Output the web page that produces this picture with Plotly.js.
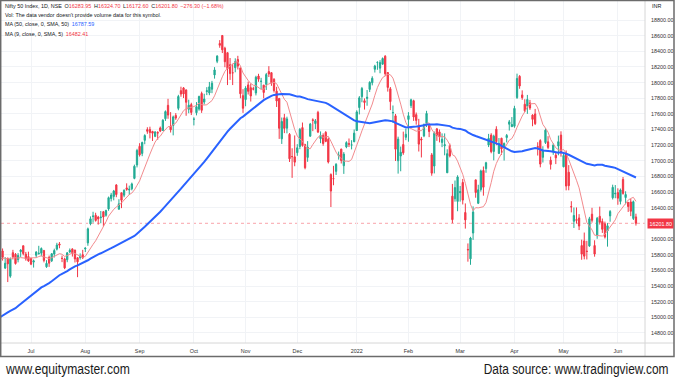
<!DOCTYPE html>
<html>
<head>
<meta charset="utf-8">
<script src="https://cdn.plot.ly/plotly-3.0.1.min.js"></script>
<style>html,body{margin:0;padding:0;background:#fff;}#chart{width:675px;height:378px;}</style>
</head>
<body>
<div id="chart"></div>
<script>
// Closes before the visible window (used only for the moving averages)
const priorCloses = [14690.70,14867.35,14637.80,14683.50,14819.05,14873.80,14834.85,14310.80,14504.80,14581.45,14617.85,14359.45,14296.40,14406.15,14341.35,14485.00,14653.05,14864.55,14894.90,14631.10,
14634.15,14496.50,14617.85,14724.80,14823.15,14942.35,14850.75,14696.50,14677.80,14923.15,15108.10,15030.15,14906.05,15175.30,15197.70,15208.45,15301.45,15337.85,15435.65,15582.80,
15574.85,15576.20,15690.35,15670.25,15751.65,15740.10,15635.35,15737.75,15799.35];

const dates = [
'2021-06-14','2021-06-15','2021-06-16','2021-06-17','2021-06-18','2021-06-21','2021-06-22','2021-06-23','2021-06-24','2021-06-25','2021-06-28','2021-06-29','2021-06-30',
'2021-07-01','2021-07-02','2021-07-05','2021-07-06','2021-07-07','2021-07-08','2021-07-09','2021-07-12','2021-07-13','2021-07-14','2021-07-15','2021-07-16','2021-07-19','2021-07-20','2021-07-22','2021-07-23','2021-07-26','2021-07-27','2021-07-28','2021-07-29','2021-07-30',
'2021-08-02','2021-08-03','2021-08-04','2021-08-05','2021-08-06','2021-08-09','2021-08-10','2021-08-11','2021-08-12','2021-08-13','2021-08-16','2021-08-17','2021-08-18','2021-08-20','2021-08-23','2021-08-24','2021-08-25','2021-08-26','2021-08-27','2021-08-30','2021-08-31',
'2021-09-01','2021-09-02','2021-09-03','2021-09-06','2021-09-07','2021-09-08','2021-09-09','2021-09-13','2021-09-14','2021-09-15','2021-09-16','2021-09-17','2021-09-20','2021-09-21','2021-09-22','2021-09-23','2021-09-24','2021-09-27','2021-09-28','2021-09-29','2021-09-30',
'2021-10-01','2021-10-04','2021-10-05','2021-10-06','2021-10-07','2021-10-08','2021-10-11','2021-10-12','2021-10-13','2021-10-14','2021-10-18','2021-10-19','2021-10-20','2021-10-21','2021-10-22','2021-10-25','2021-10-26','2021-10-27','2021-10-28','2021-10-29',
'2021-11-01','2021-11-02','2021-11-03','2021-11-04','2021-11-08','2021-11-09','2021-11-10','2021-11-11','2021-11-12','2021-11-15','2021-11-16','2021-11-17','2021-11-18','2021-11-22','2021-11-23','2021-11-24','2021-11-25','2021-11-26','2021-11-29','2021-11-30',
'2021-12-01','2021-12-02','2021-12-03','2021-12-06','2021-12-07','2021-12-08','2021-12-09','2021-12-10','2021-12-13','2021-12-14','2021-12-15','2021-12-16','2021-12-17','2021-12-20','2021-12-21','2021-12-22','2021-12-23','2021-12-24','2021-12-27','2021-12-28','2021-12-29','2021-12-30','2021-12-31',
'2022-01-03','2022-01-04','2022-01-05','2022-01-06','2022-01-07','2022-01-10','2022-01-11','2022-01-12','2022-01-13','2022-01-14','2022-01-17','2022-01-18','2022-01-19','2022-01-20','2022-01-21','2022-01-24','2022-01-25','2022-01-27','2022-01-28','2022-01-31',
'2022-02-01','2022-02-02','2022-02-03','2022-02-04','2022-02-07','2022-02-08','2022-02-09','2022-02-10','2022-02-11','2022-02-14','2022-02-15','2022-02-16','2022-02-17','2022-02-18','2022-02-21','2022-02-22','2022-02-23','2022-02-24','2022-02-25','2022-02-28',
'2022-03-02','2022-03-03','2022-03-04','2022-03-07','2022-03-08','2022-03-09','2022-03-10','2022-03-11','2022-03-14','2022-03-15','2022-03-16','2022-03-17','2022-03-21','2022-03-22','2022-03-23','2022-03-24','2022-03-25','2022-03-28','2022-03-29','2022-03-30','2022-03-31',
'2022-04-01','2022-04-04','2022-04-05','2022-04-06','2022-04-07','2022-04-08','2022-04-11','2022-04-12','2022-04-13','2022-04-18','2022-04-19','2022-04-20','2022-04-21','2022-04-22','2022-04-25','2022-04-26','2022-04-27','2022-04-28','2022-04-29',
'2022-05-02','2022-05-04','2022-05-05','2022-05-06','2022-05-09','2022-05-10','2022-05-11','2022-05-12','2022-05-13','2022-05-16','2022-05-17','2022-05-18','2022-05-19','2022-05-20','2022-05-23','2022-05-24','2022-05-25','2022-05-26','2022-05-27','2022-05-30','2022-05-31',
'2022-06-01','2022-06-02','2022-06-03','2022-06-06','2022-06-07','2022-06-08','2022-06-09','2022-06-10'];

const opens = [
15791.4,15866.95,15847.5,15629.65,15756.5,15525.85,15826.6,15805.45,15737.75,15839.35,15915.35,15807.5,15776.9,
15755.05,15705.85,15793.4,15813.75,15819.6,15855.4,15645.7,15766.8,15722.2,15808.7,15871.4,15938.05,15754.5,15746.2,15736.35,15836.35,15874.25,15860.35,15761.5,15762.95,15800.6,
15874.9,15951.55,16195.25,16288.9,16304.4,16281.15,16274.75,16349.45,16303.65,16385.7,16518.4,16545.25,16691.95,16382.5,16592.25,16561.4,16654.3,16627.95,16642.55,16775.85,16947.5,
17185.6,17095.4,17262.45,17399.35,17401.55,17375.75,17312.85,17363.55,17420.35,17387.65,17539.2,17709.65,17443.85,17450.5,17580.9,17670.85,17897.45,17932.2,17906.45,17657.95,17718.9,
17531.9,17615.55,17661.35,17861.5,17750.9,17886.85,17867.55,17915.8,18097.85,18272.85,18500.1,18602.35,18439.9,18382.7,18229.5,18125.65,18190.7,18295.85,18187.65,17833.35,
17783.15,17970.9,17935.05,17921.65,17867.55,18084.35,18015.65,17967.45,17977.6,18140.95,18127.05,18041.95,17890.55,17796.25,17281.75,17550.05,17417.3,17338.75,17055.8,17051.15,
17104.4,17183.2,17424.9,17209.05,17044.1,17315.25,17524.4,17476.05,17619.1,17283.2,17323.65,17364.5,17276.0,16824.25,16773.15,16865.55,17066.8,17149.5,16937.75,17177.6,17220.1,17201.45,17244.5,
17387.15,17681.4,17820.1,17768.5,17797.6,17913.3,17997.75,18170.4,18257.0,18185.0,18235.65,18337.2,18129.2,17921.0,17613.7,17575.15,17001.55,17062.0,17208.3,17301.05,
17529.45,17706.2,17767.75,17590.2,17456.3,17279.85,17319.2,17479.05,17451.0,17076.15,16933.25,17408.45,17370.0,17236.05,17192.25,16847.95,17194.5,16548.9,16515.65,16481.6,
16593.1,16723.2,16339.45,15867.95,15747.75,16078.0,16757.1,16457.9,16633.7,16876.65,16900.65,17202.9,17329.5,17120.4,17405.05,17094.95,17289.0,17181.85,17297.2,17468.15,17436.9,
17442.4,17809.1,18080.6,17842.75,17723.3,17698.15,17740.9,17584.85,17599.9,17183.45,17258.95,17045.15,17234.6,17242.75,17009.05,17121.3,17073.35,17189.5,17329.25,
16924.45,17096.6,16854.75,16415.55,16227.7,16248.9,16270.05,15917.4,15977.0,15845.1,15912.6,16318.15,15917.4,16043.8,16290.95,16225.55,16196.35,16105.0,16296.6,16527.9,16578.45,
16594.4,16481.65,16761.65,16530.7,16469.6,16474.95,16263.85,16283.95];

const highs = [
15823.15,15901.6,15880.3,15769.35,15761.5,15765.15,15862.8,15821.4,15821.3,15870.8,15915.65,15835.9,15839.1,
15755.55,15738.35,15845.95,15914.2,15893.55,15856.8,15730.85,15789.3,15820.35,15877.35,15952.35,15962.25,15789.0,15762.2,15834.45,15880.45,15881.0,15863.0,15767.5,15817.35,15862.8,
15892.9,16146.9,16290.2,16349.45,16336.75,16296.55,16359.25,16359.6,16375.5,16543.6,16589.4,16628.55,16701.85,16509.55,16592.5,16635.65,16712.45,16683.7,16722.05,16951.5,17153.5,
17225.75,17245.5,17340.1,17429.55,17436.5,17383.6,17379.65,17378.35,17438.55,17532.7,17644.6,17792.95,17622.75,17578.35,17610.6,17843.9,17947.65,17943.5,17912.85,17781.75,17742.15,
17557.15,17750.9,17833.45,17884.6,17857.55,17941.85,18008.65,18022.35,18197.8,18350.75,18543.15,18604.45,18458.3,18384.2,18314.25,18241.4,18310.45,18342.3,18190.7,17915.85,
17954.1,18012.25,17988.75,17947.55,18087.8,18112.6,18061.25,17971.35,18123.45,18210.15,18132.65,18056.75,17945.6,17805.25,17553.7,17600.6,17564.35,17355.4,17160.7,17324.65,
17213.05,17420.35,17489.8,17216.75,17251.65,17484.6,17543.25,17534.35,17639.5,17376.2,17351.65,17379.4,17298.15,16840.1,16936.4,16971.0,17118.65,17155.6,17112.05,17250.25,17285.95,17264.05,17400.8,
17646.65,17827.6,17944.7,17797.95,17905.0,18017.45,18081.0,18227.95,18272.25,18286.95,18321.55,18350.95,18129.2,17943.7,17707.6,17599.4,17309.15,17182.5,17373.5,17410.0,
17622.4,17794.6,17781.15,17617.8,17536.75,17306.45,17477.15,17639.45,17454.75,17099.9,17375.0,17420.4,17400.8,17351.0,17351.05,17148.3,17220.7,16705.25,16748.8,16815.9,
16678.5,16768.95,16456.0,15944.6,16028.75,16418.05,16757.3,16694.4,16887.95,16927.75,16987.9,17344.6,17353.35,17334.4,17442.4,17291.75,17294.9,17235.1,17343.65,17522.5,17559.8,
17703.7,18114.65,18095.45,17901.0,17787.5,17842.75,17779.05,17595.3,17663.65,17237.75,17275.65,17186.9,17414.7,17315.3,17054.3,17223.85,17110.7,17322.5,17377.65,
17092.25,17132.85,16945.7,16484.2,16403.7,16404.55,16318.75,15992.6,16083.6,15977.95,16284.25,16399.8,15984.75,16283.05,16414.7,16262.8,16223.35,16204.45,16370.6,16695.5,16690.75,
16649.2,16646.4,16793.85,16610.95,16469.6,16514.85,16492.8,16324.7];

const lows = [
15606.5,15842.4,15725.05,15616.75,15450.9,15505.65,15739.8,15673.95,15702.7,15772.3,15792.15,15724.05,15708.75,
15667.05,15635.95,15762.05,15801.0,15779.7,15702.7,15632.75,15644.75,15707.6,15764.65,15854.8,15882.6,15705.4,15616.0,15704.45,15819.3,15776.6,15701.1,15513.45,15737.3,15744.85,
15834.65,15914.35,16176.15,16210.3,16223.3,16185.05,16202.25,16162.1,16286.9,16361.8,16480.75,16495.3,16535.25,16376.05,16395.7,16535.2,16617.5,16564.8,16623.0,16764.85,16915.85,
17055.05,17059.7,17212.2,17345.55,17287.0,17254.2,17302.7,17269.15,17367.05,17386.9,17510.45,17537.65,17361.8,17326.1,17524.0,17646.55,17819.4,17802.9,17576.1,17608.15,17585.35,
17452.9,17581.35,17640.9,17613.15,17720.35,17840.35,17839.1,17864.95,18050.75,18248.7,18445.3,18377.7,18196.7,17968.5,18034.35,17968.5,18131.6,18167.75,17799.45,17613.1,
17697.8,17847.6,17757.95,17900.9,17836.1,18010.15,17915.0,17798.2,17905.9,18071.3,17958.8,17873.7,17688.5,17280.45,17216.1,17354.0,17351.7,16985.7,16782.4,16931.4,
17064.25,17149.3,17180.8,16891.7,16987.75,17308.95,17379.6,17405.25,17355.25,17225.8,17192.2,17238.5,16966.45,16410.2,16688.25,16819.5,17015.55,16966.1,16833.2,17161.15,17176.65,17146.35,17238.5,
17383.3,17593.55,17748.85,17655.55,17704.55,17879.15,17964.4,18128.8,18163.8,18119.65,18228.75,18085.65,17884.9,17648.45,17485.85,16997.85,16836.8,16866.75,17077.1,17264.15,
17244.55,17674.8,17511.15,17462.7,17119.4,17043.65,17302.3,17432.8,17303.0,16809.65,16839.25,17255.0,17235.85,17175.15,17070.7,16843.8,17043.85,16203.25,16478.3,16356.3,
16478.65,16442.95,16133.8,15711.45,15671.45,15990.0,16528.8,16447.9,16606.5,16555.0,16847.9,17175.75,17096.4,17006.3,17199.65,17091.15,17076.55,17003.9,17235.7,17387.2,17435.2,
17422.7,17791.4,17921.55,17779.85,17623.7,17600.55,17650.95,17442.35,17457.4,17067.85,16917.25,16978.95,17215.5,17149.2,16888.7,17077.25,16958.45,17071.05,17053.25,
16917.25,16623.0,16623.65,16340.9,16142.1,16197.3,16115.55,15735.75,15740.85,15739.65,15900.8,16211.2,15775.2,16003.85,16185.75,16078.6,16006.95,15903.7,16221.95,16506.15,16521.9,
16438.85,16443.05,16567.9,16444.55,16347.1,16293.5,16243.85,16172.6];

const closes = [
15811.85,15869.25,15767.55,15691.4,15683.35,15746.5,15772.75,15686.95,15790.45,15860.35,15814.7,15748.45,15721.5,
15680.0,15722.2,15834.35,15818.25,15879.65,15727.9,15689.8,15692.6,15812.35,15853.95,15924.2,15923.4,15752.4,15632.1,15824.05,15856.05,15824.45,15746.45,15709.4,15778.45,15763.05,
15885.15,16130.75,16258.8,16294.6,16238.2,16258.25,16280.1,16282.25,16364.4,16529.1,16563.05,16614.6,16568.85,16450.5,16496.45,16624.6,16634.65,16636.9,16705.2,16931.05,17132.2,
17076.25,17234.15,17323.6,17377.8,17362.1,17353.5,17369.25,17355.3,17380.0,17519.45,17629.5,17585.15,17396.9,17562.0,17546.65,17822.95,17853.2,17855.1,17748.6,17711.3,17618.15,
17532.05,17691.25,17822.3,17646.0,17790.35,17895.2,17945.95,17991.95,18161.75,18338.55,18477.05,18418.75,18266.6,18178.1,18114.9,18125.4,18268.4,18210.95,17857.25,17671.65,
17929.65,17888.95,17829.2,17916.8,18068.55,18044.25,18017.2,17873.6,18102.75,18109.45,17999.2,17898.65,17764.8,17416.55,17503.35,17415.05,17536.25,17026.45,17053.95,16983.2,
17166.9,17401.65,17196.7,16912.25,17176.7,17469.75,17516.85,17511.3,17368.25,17324.9,17221.4,17248.4,16985.2,16614.2,16770.85,16955.45,17072.6,17003.75,17086.25,17233.25,17213.6,17203.95,17354.05,
17625.7,17805.25,17925.25,17745.9,17812.7,18003.3,18055.75,18212.35,18257.8,18255.75,18308.1,18113.05,17938.4,17757.0,17617.15,17149.1,17277.95,17110.15,17101.95,17339.85,
17576.85,17780.0,17560.2,17516.3,17213.6,17266.75,17463.8,17605.85,17374.75,16842.8,17352.45,17322.2,17304.6,17276.3,17206.65,17092.2,17063.25,16247.95,16658.4,16793.9,
16605.95,16498.05,16245.35,15863.15,16013.45,16345.35,16594.9,16630.45,16871.3,16663.0,16975.35,17287.05,17117.6,17315.5,17245.65,17222.75,17153.0,17222.0,17325.3,17498.25,17464.75,
17670.45,18053.4,17957.4,17807.65,17639.55,17784.35,17674.95,17530.3,17475.65,17173.65,16958.65,17136.55,17392.6,17171.95,16953.95,17200.8,17038.4,17245.05,17102.55,
17069.1,16677.6,16682.65,16411.25,16301.85,16240.05,16167.1,15808.0,15782.15,15842.3,16259.3,16240.3,15809.4,16266.15,16214.7,16125.15,16025.8,16170.15,16352.45,16661.4,16584.55,
16522.75,16628.0,16584.3,16569.55,16416.35,16356.25,16478.1,16201.8];

const monthTickDates = ['2021-07-01','2021-08-02','2021-09-01','2021-10-01','2021-11-01','2021-12-01','2022-01-03','2022-02-01','2022-03-02','2022-04-01','2022-05-02','2022-06-01'];
const monthTickLabels = ['Jul','Aug','Sep','Oct','Nov','Dec','2022','Feb','Mar','Apr','May','Jun'];
const priceTicks = [18800,18600,18400,18200,18000,17800,17600,17400,17200,17000,16800,16600,16400,16000,15800,15600,15400,15200,15000,14800];
const footerLeft = 'www.equitymaster.com';
const footerRight = 'Data source: www.tradingview.com';

// simple moving average of close
function sma(n) {
  const all = priorCloses.concat(closes);
  return closes.map(function(_, i) {
    const end = priorCloses.length + i;
    let s = 0;
    for (let k = end - n + 1; k <= end; k++) s += all[k];
    return s / n;
  });
}
const ma50 = sma(50);
const ma9 = sma(9);

const N = closes.length;
const lastO = opens[N-1], lastH = highs[N-1], lastL = lows[N-1], lastC = closes[N-1];
const chg = lastC - closes[N-2];
const pct = chg / closes[N-2] * 100;
const fmtSigned = v => (v < 0 ? '\u2212' : '+') + Math.abs(v).toFixed(2);

const RED = '#f23645', GREEN = '#22ab94', DARK = '#131722';
const px = p => (p - 1) / 644;
const py = q => (343 - q) / 342;
const F = 'Liberation Sans, Arial, sans-serif';
const GAP = '\u2002';

const traces = [
  {
    type: 'candlestick', x: dates, open: opens, high: highs, low: lows, close: closes,
    increasing: {line: {color: GREEN, width: 1}, fillcolor: GREEN},
    decreasing: {line: {color: RED, width: 1}, fillcolor: RED},
    whiskerwidth: 0, hoverinfo: 'skip', showlegend: false
  },
  {type: 'scatter', mode: 'lines', x: dates, y: ma9, line: {color: '#f28b8e', width: 1}, hoverinfo: 'skip', showlegend: false},
  {type: 'scatter', mode: 'lines', x: dates, y: ma50, line: {color: '#2962ff', width: 2}, hoverinfo: 'skip', showlegend: false}
];

const leg1 = '<span style="color:' + DARK + '">Nifty 50 Index, 1D, NSE' + GAP + 'O</span><span style="color:' + RED + '">' + lastO.toFixed(2) +
  '</span><span style="color:' + DARK + '">' + GAP + 'H</span><span style="color:' + RED + '">' + lastH.toFixed(2) +
  '</span><span style="color:' + DARK + '">' + GAP + 'L</span><span style="color:' + RED + '">' + lastL.toFixed(2) +
  '</span><span style="color:' + DARK + '">' + GAP + 'C</span><span style="color:' + RED + '">' + lastC.toFixed(2) +
  GAP + fmtSigned(chg) + ' (' + fmtSigned(pct) + '%)</span>';
const leg3 = '<span style="color:' + DARK + '">MA (50, close, 0, SMA, 50)' + GAP + '</span><span style="color:#2962ff">' + ma50[N-1].toFixed(2) + '</span>';
const leg4 = '<span style="color:' + DARK + '">MA (9, close, 0, SMA, 5)' + GAP + '</span><span style="color:' + RED + '">' + ma9[N-1].toFixed(2) + '</span>';

const smallFont = {family: F, size: 5.4, color: DARK};
const footFont = {family: 'Liberation Sans, Arial, sans-serif', size: 15, color: '#1a1a1a'};
const annotations = [
  {xref: 'paper', yref: 'paper', x: px(3), y: py(6), xanchor: 'left', yanchor: 'middle', text: leg1, showarrow: false, font: smallFont},
  {xref: 'paper', yref: 'paper', x: px(3), y: py(15.5), xanchor: 'left', yanchor: 'middle', text: 'Vol: The data vendor doesn\'t provide volume data for this symbol.', showarrow: false, font: smallFont},
  {xref: 'paper', yref: 'paper', x: px(3), y: py(24.5), xanchor: 'left', yanchor: 'middle', text: leg3, showarrow: false, font: smallFont},
  {xref: 'paper', yref: 'paper', x: px(3), y: py(33.5), xanchor: 'left', yanchor: 'middle', text: leg4, showarrow: false, font: smallFont},
  {xref: 'paper', yref: 'paper', x: px(650), y: py(6), xanchor: 'left', yanchor: 'middle', text: 'INR', showarrow: false, font: smallFont},
  {xref: 'paper', yref: 'y', x: px(647), y: lastC, xanchor: 'left', yanchor: 'middle', text: lastC.toFixed(2), showarrow: false,
   bgcolor: RED, borderpad: 1.5, font: {family: F, size: 5.4, color: '#ffffff'}},
  {xref: 'paper', yref: 'paper', x: px(3), y: py(368), xanchor: 'left', yanchor: 'middle', text: footerLeft, showarrow: false, font: footFont},
  {xref: 'paper', yref: 'paper', x: px(671), y: py(368), xanchor: 'right', yanchor: 'middle', text: footerRight, showarrow: false, font: footFont}
];

const shapes = [
  {type: 'line', xref: 'paper', yref: 'y', x0: 0, x1: 1, y0: lastC, y1: lastC, line: {color: 'rgba(242,54,69,0.45)', width: 1, dash: 'dot'}, layer: 'below'},
  {type: 'line', xref: 'paper', yref: 'paper', x0: px(645), x1: px(645), y0: py(0), y1: py(357), line: {color: '#d6d6d6', width: 1}},
  {type: 'line', xref: 'paper', yref: 'paper', x0: px(0), x1: px(674), y0: py(343), y1: py(343), line: {color: '#d6d6d6', width: 1}},
  {type: 'rect', xref: 'paper', yref: 'paper', x0: px(0.7), x1: px(674), y0: py(0.5), y1: py(356.5), line: {color: '#6b6b6b', width: 1.5}, fillcolor: 'rgba(0,0,0,0)'}
];

const layout = {
  width: 675, height: 378,
  margin: {l: 1, r: 30, t: 1, b: 35, pad: 0},
  paper_bgcolor: '#ffffff', plot_bgcolor: '#ffffff',
  showlegend: false, hovermode: false,
  font: {family: F, size: 5.4, color: DARK},
  xaxis: {
    type: 'category', range: [1.39, 250.5], tickvals: monthTickDates, ticktext: monthTickLabels,
    showgrid: true, gridcolor: '#f1f3f6', gridwidth: 1, zeroline: false, showline: false,
    ticks: 'outside', ticklen: 3, tickcolor: 'rgba(0,0,0,0)', tickfont: {family: F, size: 5.4, color: '#333'},
    rangeslider: {visible: false}, fixedrange: true
  },
  yaxis: {
    side: 'right', range: [14672, 19043], tickvals: priceTicks, tickformat: '.2f',
    showgrid: true, gridcolor: '#f1f3f6', gridwidth: 1, zeroline: false, showline: false,
    ticks: 'outside', ticklen: 4, tickcolor: 'rgba(0,0,0,0)', tickfont: {family: F, size: 5.4, color: '#333'},
    fixedrange: true
  },
  annotations: annotations,
  shapes: shapes
};

// condense a caption horizontally to a given width, keeping one of its ends fixed
function condense(t, width, keepRight) {
  const bb = t.getBBox();
  const s = width / bb.width;
  const ox = keepRight ? bb.x + bb.width : bb.x;
  const prev = t.getAttribute('transform');
  t.setAttribute('transform', (prev ? prev + ' ' : '') + 'translate(' + ox + ',0) scale(' + s + ',1) translate(' + (-ox) + ',0)');
}

Plotly.newPlot('chart', traces, layout, {staticPlot: true, displayModeBar: false}).then(function() {
  document.querySelectorAll('.annotation-text').forEach(function(t) {
    if (t.textContent === footerLeft) condense(t, 125, false);
    if (t.textContent === footerRight) condense(t, 185, true);
  });
});
</script>
</body>
</html>
